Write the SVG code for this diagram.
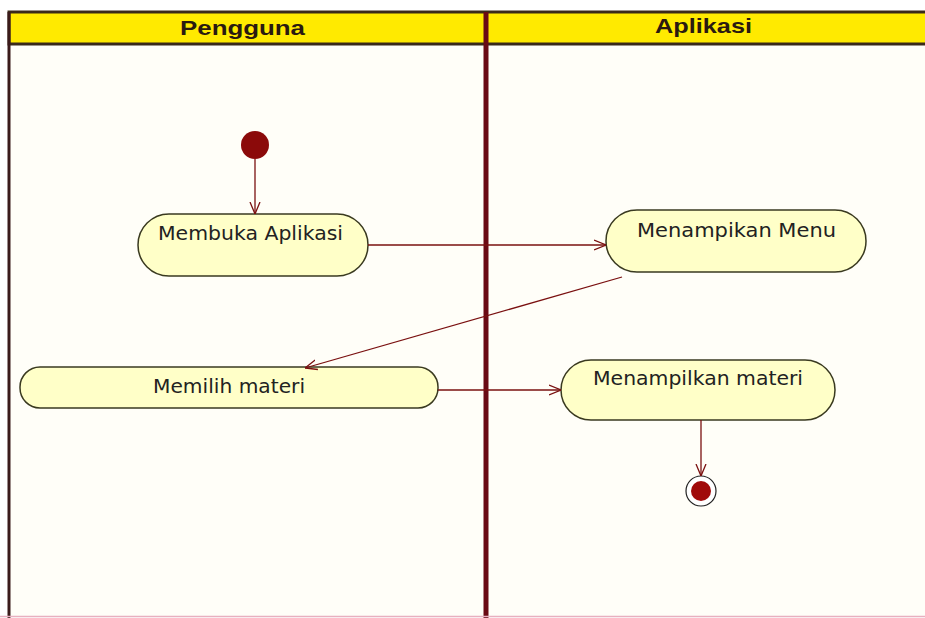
<svg xmlns="http://www.w3.org/2000/svg" width="925" height="618" viewBox="0 0 925 618">
<style>
.lane{fill:#fffef8}
.hdr{fill:#ffea00;stroke:#3a2a1a;stroke-width:3}
.ht{font-family:"Liberation Sans",Arial,sans-serif;font-weight:bold;font-size:21px;fill:#2a1a10}
.act{fill:#ffffc8;stroke:#3a3a20;stroke-width:1.5}
.at{font-family:"DejaVu Sans","Liberation Sans",sans-serif;font-size:19px;fill:#222}
.c{stroke:#7a1010;stroke-width:1.3;fill:none;marker-end:url(#a)}
</style>
<defs>
<marker id="a" viewBox="0 0 12 12" refX="12" refY="6" markerWidth="12" markerHeight="12" markerUnits="userSpaceOnUse" orient="auto">
<path d="M0,1 L12,6 L0,11" fill="none" stroke="#7a1010" stroke-width="1.3"/>
</marker>
</defs>
<rect width="925" height="618" fill="#ffffff"/>
<g id="lanes">
<rect class="lane" x="9" y="44" width="916" height="572"/>
<rect class="hdr" x="9" y="12" width="920" height="32"/>
<line x1="9" y1="12" x2="9" y2="618" stroke="#3a1a1a" stroke-width="3"/>
<line x1="486" y1="12" x2="486" y2="618" stroke="#6a0a14" stroke-width="5"/>
<line x1="0" y1="616.5" x2="925" y2="616.5" stroke="#e8b0c0" stroke-width="1.5"/>
<text class="ht" x="180" y="35" textLength="125" lengthAdjust="spacingAndGlyphs">Pengguna</text>
<text class="ht" x="655" y="33" textLength="97" lengthAdjust="spacingAndGlyphs">Aplikasi</text>
</g>
<g id="start"><circle cx="255" cy="145" r="14" fill="#8b0a0a"/></g>
<g id="membuka"><rect class="act" x="138" y="214" width="230" height="62" rx="31"/><text class="at" x="158" y="240" textLength="185" lengthAdjust="spacingAndGlyphs">Membuka Aplikasi</text></g>
<g id="menampikan"><rect class="act" x="606" y="210" width="260" height="62" rx="31"/><text class="at" x="637" y="237" textLength="199" lengthAdjust="spacingAndGlyphs">Menampikan Menu</text></g>
<g id="memilih"><rect class="act" x="20" y="367" width="418" height="41" rx="20"/><text class="at" x="153" y="393" textLength="152" lengthAdjust="spacingAndGlyphs">Memilih materi</text></g>
<g id="menampilkan"><rect class="act" x="561" y="360" width="274" height="60" rx="30"/><text class="at" x="593" y="385" textLength="210" lengthAdjust="spacingAndGlyphs">Menampilkan materi</text></g>
<g id="end"><circle cx="701" cy="491" r="15" fill="#fff" stroke="#222" stroke-width="1.2"/><circle cx="701" cy="491" r="10" fill="#a00a0a"/></g>
<g id="connectors">
<path class="c" d="M255,159 L255,214"/>
<path class="c" d="M368,245 L606,245"/>
<path class="c" d="M622,277 L305,368"/>
<path class="c" d="M438,390 L561,390"/>
<path class="c" d="M701,420 L701,476"/>
</g>
</svg>
